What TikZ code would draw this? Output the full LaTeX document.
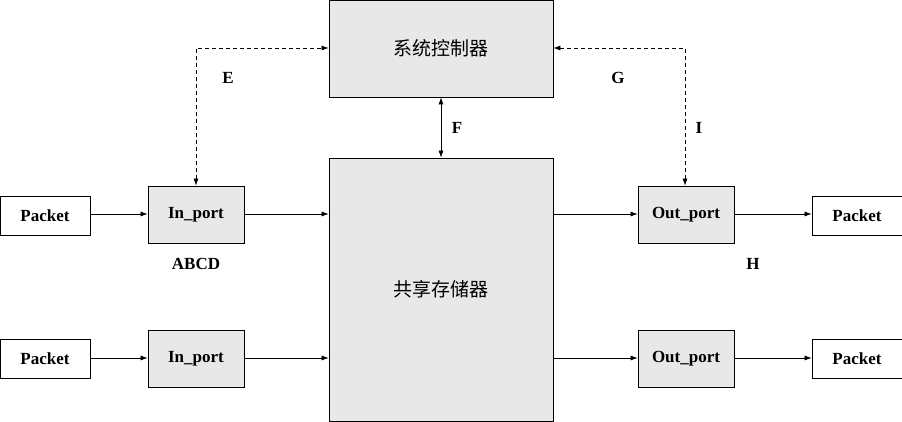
\documentclass[tikz,border=0pt]{standalone}
\usepackage{fontspec}
\setmainfont{Liberation Serif}
\newfontfamily\cjk{Noto Sans CJK SC}
\usetikzlibrary{arrows.meta}
\begin{document}
\begin{tikzpicture}[x=1pt,y=-1pt,
  box/.style={draw,fill=gray!18,line width=0.8pt,inner sep=0pt,font=\fontsize{17}{19}\selectfont\bfseries},
  pkt/.style={draw,fill=white,line width=0.8pt,inner sep=0pt,minimum width=90pt,minimum height=39pt,font=\fontsize{17}{19}\selectfont\bfseries},
  port/.style={box,minimum width=96pt,minimum height=57pt},
  big/.style={box,minimum width=224pt,font=\fontsize{19}{22}\selectfont\cjk},
  lab/.style={font=\fontsize{17}{19}\selectfont\bfseries},
  arr/.style={-{Latex[length=7pt,width=5pt]},line width=0.6pt},
  darr/.style={{Latex[length=7pt,width=5pt]}-{Latex[length=7pt,width=5pt]},line width=0.6pt,dash pattern=on 4pt off 3pt}]
\useasboundingbox (0,0) rectangle (902,422);
\node[big,minimum height=97pt] (ctl) at (441,48.5) {系统控制器};
\node[big,minimum height=263pt] (mem) at (441,289.5) {共享存储器};
\node[port] (in1) at (196,214.5) {In\_port};
\node[port] (in2) at (196,358.5) {In\_port};
\node[port] (out1) at (686,214.5) {Out\_port};
\node[port] (out2) at (686,358.5) {Out\_port};
\node[pkt] (p1) at (45,215.5) {Packet};
\node[pkt] (p2) at (45,359) {Packet};
\node[pkt] (p3) at (857,215.5) {Packet};
\node[pkt] (p4) at (857,359) {Packet};
\coordinate (cl) at (196,48);
\coordinate (cr) at (685,48);
\draw[arr] (p1.east|-0,214) -- (in1.west|-0,214);
\draw[arr] (p2.east|-0,358) -- (in2.west|-0,358);
\draw[arr] (in1.east|-0,214) -- (mem.west|-0,214);
\draw[arr] (in2.east|-0,358) -- (mem.west|-0,358);
\draw[arr] (mem.east|-0,214) -- (out1.west|-0,214);
\draw[arr] (mem.east|-0,358) -- (out2.west|-0,358);
\draw[arr] (out1.east|-0,214) -- (p3.west|-0,214);
\draw[arr] (out2.east|-0,358) -- (p4.west|-0,358);
\draw[darr] (in1.north-|cl) -- (cl) -- (ctl.west|-cl);
\draw[darr] (out1.north-|cr) -- (cr) -- (ctl.east|-cr);
\draw[{Latex[length=7pt,width=5pt]}-{Latex[length=7pt,width=5pt]},line width=0.6pt] (ctl.south) -- (mem.north);
\node[lab] (e) at (228,78) {E};
\node[lab] (g) at (618,78) {G};
\node[lab] (f) at (457,128) {F};
\node[lab] (i) at (699,128) {I};
\node[lab] (abcd) at (196,264) {ABCD};
\node[lab] (h) at (753,264) {H};
\end{tikzpicture}
\end{document}
